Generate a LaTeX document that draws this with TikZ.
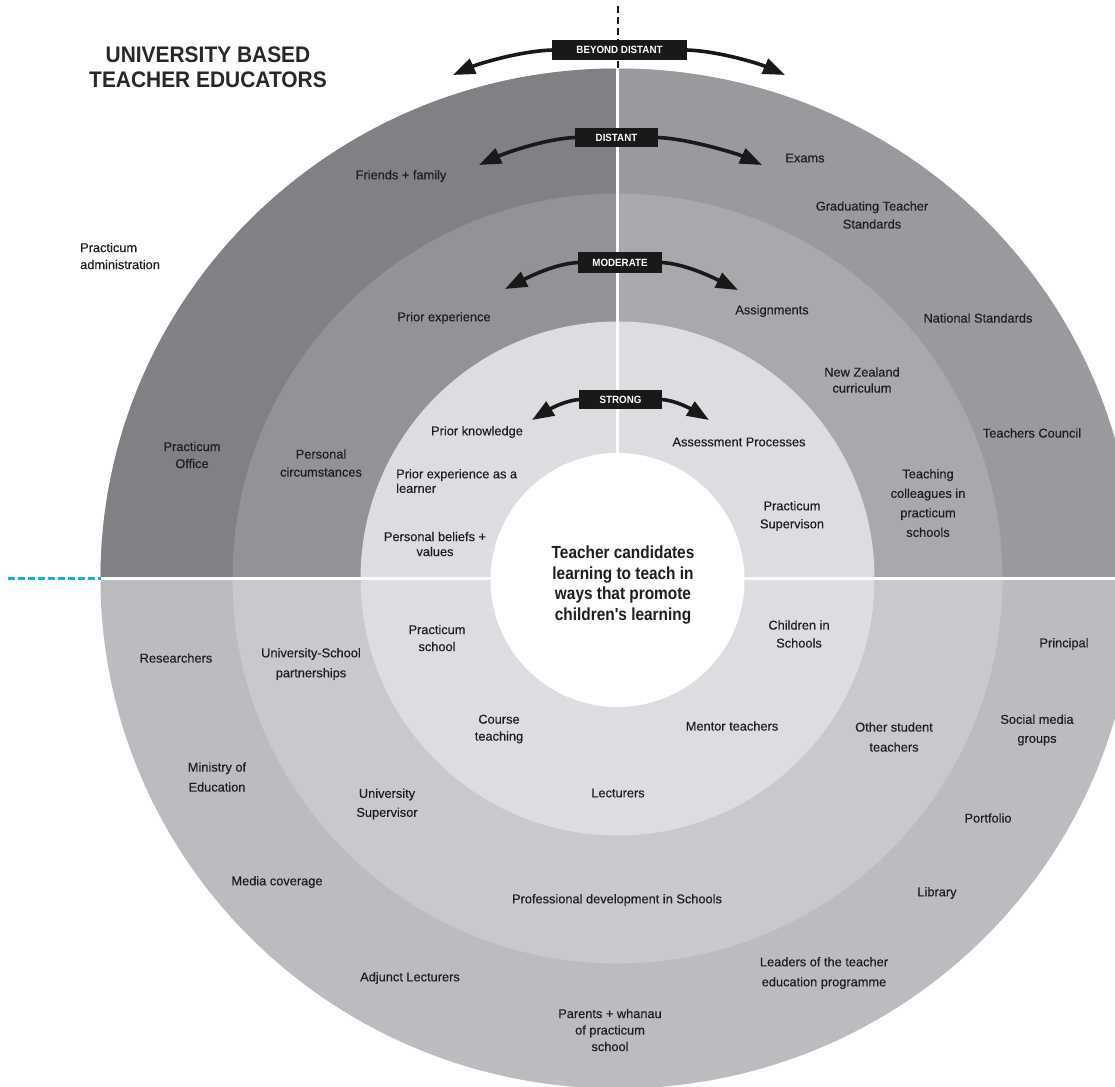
\documentclass[tikz,border=0pt]{standalone}
\usepackage{fontspec}
\setmainfont{Liberation Sans}
\newfontfamily\labfont[FakeBold=0.35]{Liberation Sans}
\newfontfamily\condfont[FakeStretch=0.93]{Liberation Sans}
\newfontfamily\narrowfont[FakeStretch=0.88]{Liberation Sans}
\usetikzlibrary{arrows.meta}
\definecolor{outerTL}{RGB}{128,129,133}
\definecolor{outerTR}{RGB}{153,154,158}
\definecolor{outerB}{RGB}{187,188,191}
\definecolor{midTL}{RGB}{146,147,151}
\definecolor{midTR}{RGB}{168,169,173}
\definecolor{midB}{RGB}{200,201,204}
\definecolor{strongC}{RGB}{220,221,224}
\definecolor{labcol}{RGB}{30,30,33}
\definecolor{titlecol}{RGB}{40,40,42}
\definecolor{cyanline}{RGB}{20,175,235}
\definecolor{arrcol}{RGB}{25,25,25}
\tikzset{
  lbl/.style={font=\labfont\fontsize{12.8}{#1}\selectfont, text=labcol, align=center, inner sep=0pt},
  lbl/.default=18,
  tagbox/.style={fill=arrcol, text=white, font=\condfont\bfseries\fontsize{10.5}{11}\selectfont, inner sep=0pt},
  arr/.style={draw=arrcol, line width=3.6pt, -{Triangle[length=22pt,width=16pt]}},
  divider/.style={draw=white, line width=2.2pt},
}
\begin{document}
\begin{tikzpicture}[x=1pt,y=-1pt]
\useasboundingbox (0,0) rectangle (1115,1086);
\clip (0,0) rectangle (1115,1086);
\coordinate (C) at (617.5,578.5);
% rings
\fill[outerB] (C) ellipse [x radius=517pt, y radius=510pt];
\fill[midB] (C) circle [radius=385pt];
\begin{scope}
  \clip (0,0) rectangle (617.5,578.5);
  \fill[outerTL] (C) ellipse [x radius=517pt, y radius=510pt];
  \fill[midTL] (C) circle [radius=385pt];
\end{scope}
\begin{scope}
  \clip (617.5,0) rectangle (1115,578.5);
  \fill[outerTR] (C) ellipse [x radius=517pt, y radius=510pt];
  \fill[midTR] (C) circle [radius=385pt];
\end{scope}
\fill[strongC] (C) circle [radius=257pt];
% dividers
\coordinate (vtop) at (617.5,68.5);
\coordinate (hleft) at (100.5,578.5);
\coordinate (hright) at (1115,578.5);
\draw[divider] (vtop) -- (C);
\draw[divider] (hleft) -- (hright);
\fill[white] (617.5,580) circle [radius=127pt];
% external dashed lines
\coordinate (dtop) at (617.5,6);
\draw[arrcol, line width=2pt, dash pattern=on 7pt off 4pt] (dtop) -- (vtop);
\coordinate (bleft) at (8,578.5);
\draw[cyanline, line width=2.4pt, dash pattern=on 6.5pt off 3.5pt] (bleft) -- (hleft);

% level tags
\coordinate (bdL) at (453,75);  \coordinate (bdR) at (785,75);
\coordinate (diL) at (479,165); \coordinate (diR) at (762,165);
\coordinate (moL) at (505,289); \coordinate (moR) at (738,290);
\coordinate (stL) at (532,420); \coordinate (stR) at (709,420);
\node[tagbox, minimum width=135pt, minimum height=20pt] (bd) at (619.5,50) {BEYOND DISTANT};
\node[tagbox, minimum width=83pt, minimum height=19pt] (di) at (616.5,137.5) {DISTANT};
\node[tagbox, minimum width=84pt, minimum height=21pt] (mo) at (620,262.5) {MODERATE};
\node[tagbox, minimum width=83pt, minimum height=19pt] (st) at (620.5,399.5) {STRONG};
\draw[arr] ([xshift=1pt]bd.west) .. controls +(-33,1) and +(25,-11) .. (bdL);
\draw[arr] ([xshift=-1pt]bd.east) .. controls +(33,1) and +(-25,-11) .. (bdR);
\draw[arr] ([xshift=1pt]di.west) .. controls +(-31,1) and +(24,-11) .. (diL);
\draw[arr] ([xshift=-1pt]di.east) .. controls +(31,1) and +(-24,-11) .. (diR);
\draw[arr] ([xshift=1pt]mo.west) .. controls +(-25,1) and +(20,-10) .. (moL);
\draw[arr] ([xshift=-1pt]mo.east) .. controls +(25,1) and +(-20,-10) .. (moR);
\draw[arr] ([xshift=1pt]st.west) .. controls +(-17,1) and +(13,-8) .. (stL);
\draw[arr] ([xshift=-1pt]st.east) .. controls +(17,1) and +(-13,-8) .. (stR);

% title
\node[font=\condfont\bfseries\fontsize{22.5}{25}\selectfont, text=titlecol, align=center, inner sep=0pt] (title) at (208,67.5) {UNIVERSITY BASED\\TEACHER EDUCATORS};

% centre
\node[font=\narrowfont\bfseries\fontsize{17.5}{20.5}\selectfont, text=labcol, align=center, inner sep=0pt] (core) at (623,585) {Teacher candidates\\learning to teach in\\ways that promote\\children's learning};

% upper labels
\node[lbl=17, align=left, anchor=west] (padm) at (80,256) {Practicum\\administration};
\node[lbl] (ff) at (401,176) {Friends + family};
\node[lbl] (ex) at (805,158) {Exams};
\node[lbl=18] (gts) at (872,215) {Graduating Teacher\\Standards};
\node[lbl] (pe) at (444,318) {Prior experience};
\node[lbl] (asg) at (772,311) {Assignments};
\node[lbl] (ns) at (978,318) {National Standards};
\node[lbl=16] (nz) at (862,380) {New Zealand\\curriculum};
\node[lbl] (tcn) at (1032,433) {Teachers Council};
\node[lbl=19.5] (tcol) at (928,503) {Teaching\\colleagues in\\practicum\\schools};
\node[lbl=18] (psup) at (792,516) {Practicum\\Supervison};
\node[lbl] (ap) at (739,442) {Assessment Processes};
\node[lbl] (pk) at (477,432) {Prior knowledge};
\node[lbl=14.5, align=left, anchor=west] (pel) at (396,481) {Prior experience as a\\learner};
\node[lbl=15] (pbv) at (435,544) {Personal beliefs +\\values};
\node[lbl=17] (pof) at (192,455) {Practicum\\Office};
\node[lbl=18] (pcir) at (321,463) {Personal\\circumstances};

% lower labels
\node[lbl] (res) at (176,658) {Researchers};
\node[lbl=20] (usp) at (311,664) {University-School\\partnerships};
\node[lbl=17] (psch) at (437,638) {Practicum\\school};
\node[lbl=20] (moe) at (217,777) {Ministry of\\Education};
\node[lbl=19] (usup) at (387,804) {University\\Supervisor};
\node[lbl=17] (ct) at (499,729) {Course\\teaching};
\node[lbl] (mt) at (732,726) {Mentor teachers};
\node[lbl] (lec) at (618,793) {Lecturers};
\node[lbl] (mc) at (277,882) {Media coverage};
\node[lbl] (pd) at (617,900) {Professional development in Schools};
\node[lbl] (adj) at (410,978) {Adjunct Lecturers};
\node[lbl=16.5] (pw) at (610,1030) {Parents + whanau\\of practicum\\school};
\node[lbl=18] (cis) at (799,634) {Children in\\Schools};
\node[lbl] (pri) at (1064,644) {Principal};
\node[lbl=20] (ost) at (894,737) {Other student\\teachers};
\node[lbl=19] (smg) at (1037,730) {Social media\\groups};
\node[lbl] (por) at (988,818) {Portfolio};
\node[lbl] (lib) at (937,893) {Library};
\node[lbl=20] (lead) at (824,973) {Leaders of the teacher\\education programme};
\end{tikzpicture}
\end{document}
